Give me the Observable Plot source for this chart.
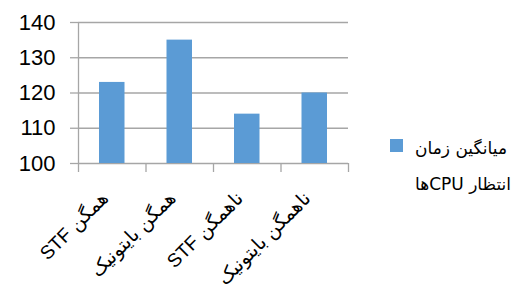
<!DOCTYPE html>
<html><head><meta charset="utf-8">
<script src="https://cdn.jsdelivr.net/npm/d3@7"></script>
<script src="https://cdn.jsdelivr.net/npm/@observablehq/plot@0.6"></script>
<style>
body{margin:0;background:#fff;}
#wrap{position:relative;width:527px;height:295px;font-family:"Liberation Sans","DejaVu Sans",sans-serif;}
#legend{position:absolute;left:390px;top:136px;width:135px;}
#legend .sw{position:absolute;left:0;top:3px;width:13px;height:13px;background:#5B9BD5;}
#legend .t{position:absolute;left:25px;top:-6px;width:110px;direction:rtl;text-align:left;font-size:17px;line-height:36px;font-family:"DejaVu Sans",sans-serif;color:#000;}
</style></head><body>
<div id="wrap"><div id="chart"></div>
<div id="legend"><div class="sw"></div><div class="t">میانگین زمان<br>انتظار CPUها</div></div></div>
<script>
const categories = ["همگن STF", "همگن بایتونیک", "ناهمگن STF", "ناهمگن بایتونیک"];
const values = [123, 135, 114, 120];
const yTicks = [100, 110, 120, 130, 140];
const seriesName = "میانگین زمان انتظار CPUها";

const data = categories.map((c, i) => ({i, label: "\u202B" + c + "\u202C", value: values[i]}));
const bounds = d3.range(categories.length + 1);
const grid = "#A6A6A6";

const chart = Plot.plot({
  width: 527, height: 295,
  marginLeft: 78, marginRight: 179, marginTop: 22, marginBottom: 132,
  style: {fontFamily: "Liberation Sans, DejaVu Sans, sans-serif", background: "#fff", color: "#000"},
  x: {domain: [0, categories.length]},
  y: {domain: [yTicks[0], yTicks[yTicks.length - 1]]},
  marks: [
    Plot.gridY(yTicks, {stroke: grid, strokeOpacity: 1, strokeWidth: 1.3}),
    Plot.axisY(yTicks, {tickSize: 8, tickPadding: 15, fontSize: 22, stroke: grid, strokeWidth: 1.3, label: null}),
    Plot.ruleX([0], {stroke: grid, strokeWidth: 1.3}),
    Plot.axisX(bounds, {tickSize: 9, tickFormat: () => "", stroke: grid, strokeWidth: 1.3, label: null}),
    Plot.rectY(data, {x1: "i", x2: d => d.i + 1, y: "value", insetLeft: 21, insetRight: 21, fill: "#5B9BD5", clip: true}),
    Plot.text(data, {x: d => d.i + 0.5, text: "label", frameAnchor: "bottom", rotate: -45, textAnchor: "end", dy: 36, dx: -3, fontSize: 19, fill: "#000"})
  ]
});
document.getElementById("chart").appendChild(chart);
</script></body></html>
